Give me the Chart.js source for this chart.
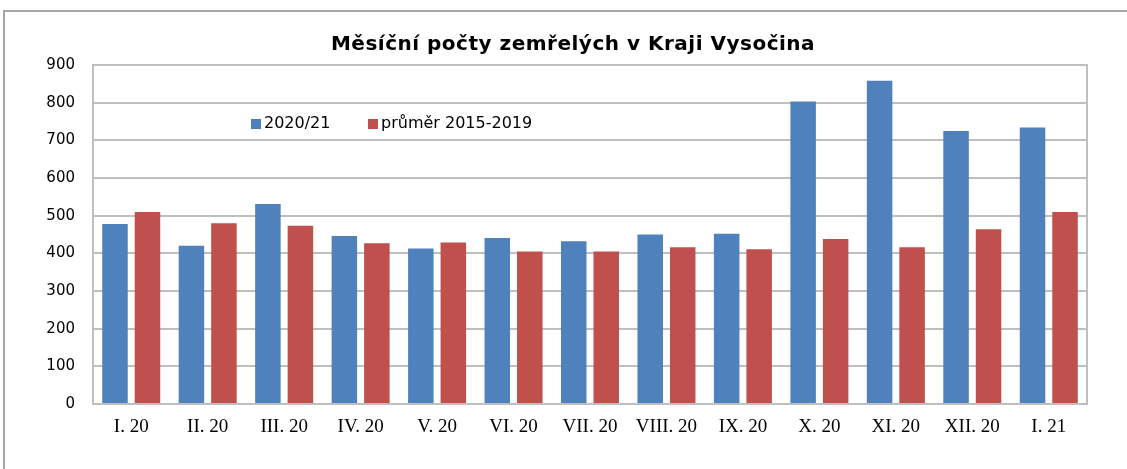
<!DOCTYPE html>
<html>
<head>
<meta charset="utf-8">
<script src="https://cdn.jsdelivr.net/npm/chart.js@4.4.1/dist/chart.umd.min.js"></script>
<style>
  html, body { margin: 0; padding: 0; background: #fff; }
  #wrap { position: relative; width: 1127px; height: 469px; }
</style>
</head>
<body>
<div id="wrap"><canvas id="chart" width="1127" height="469"></canvas></div>
<script>
// Chart data
const months = ['I. 20', 'II. 20', 'III. 20', 'IV. 20', 'V. 20', 'VI. 20', 'VII. 20',
  'VIII. 20', 'IX. 20', 'X. 20', 'XI. 20', 'XII. 20', 'I. 21'];
const deaths2020 = [478, 420, 531, 446, 413, 441, 432, 450, 452, 803, 858, 725, 734];
const average2015 = [510, 480, 473, 427, 429, 405, 405, 416, 411, 438, 416, 464, 510];
const seriesNames = ['2020/21', 'průměr 2015-2019'];
const yTicks = [0, 100, 200, 300, 400, 500, 600, 700, 800, 900];
const chartTitle = 'Měsíční počty zemřelých v Kraji Vysočina';

const gridColor = '#bfbfbf';
const sansFont = '"DejaVu Sans", Verdana, sans-serif';

// Outer frame, title, plot frame and the in-plot legend
const framePlugin = {
  id: 'frame',
  beforeDraw(chart) {
    const ctx = chart.ctx;
    ctx.save();
    ctx.strokeStyle = '#a6a6a6';
    ctx.lineWidth = 2;
    ctx.beginPath();
    ctx.moveTo(4, 469);
    ctx.lineTo(4, 11);
    ctx.lineTo(1127, 11);
    ctx.stroke();
    ctx.restore();
  },
  afterDraw(chart) {
    const { ctx, chartArea } = chart;
    ctx.save();
    ctx.strokeStyle = gridColor;
    ctx.lineWidth = 2;
    ctx.strokeRect(chartArea.left, chartArea.top, chartArea.right - chartArea.left, chartArea.bottom - chartArea.top);

    // title
    ctx.fillStyle = '#000';
    ctx.font = 'bold 20px ' + sansFont;
    ctx.letterSpacing = '0.5px';
    ctx.textAlign = 'center';
    ctx.textBaseline = 'middle';
    ctx.fillText(chartTitle, 573, chartArea.top - 20);
    ctx.letterSpacing = '0px';

    // legend
    const y = chartArea.top + 59;
    const xs = [chartArea.left + 158, chartArea.left + 275];
    ctx.font = '16px ' + sansFont;
    ctx.textAlign = 'left';
    chart.data.datasets.forEach((ds, i) => {
      ctx.fillStyle = ds.backgroundColor;
      ctx.fillRect(xs[i], y - 5, 10, 10);
      ctx.fillStyle = '#000';
      ctx.fillText(ds.label, xs[i] + 13, y);
    });
    ctx.restore();
  }
};

new Chart(document.getElementById('chart'), {
  type: 'bar',
  data: {
    labels: months,
    datasets: [
      { label: seriesNames[0], data: deaths2020, backgroundColor: '#4f81bd' },
      { label: seriesNames[1], data: average2015, backgroundColor: '#c0504d' }
    ]
  },
  options: {
    responsive: false,
    animation: false,
    categoryPercentage: 0.85,
    barPercentage: 0.785,
    layout: { padding: { left: 20, right: 40, top: 65, bottom: 0 } },
    plugins: {
      legend: { display: false },
      tooltip: { enabled: false },
      title: { display: false }
    },
    scales: {
      x: {
        grid: { display: false, drawTicks: false },
        border: { color: gridColor, width: 2 },
        ticks: {
          color: '#000',
          padding: 12,
          maxRotation: 0,
          autoSkip: false,
          font: { family: '"Liberation Serif", serif', size: 19 }
        },
        afterFit: (scale) => { scale.height = 65; }
      },
      y: {
        min: 0,
        max: 900,
        afterBuildTicks: (scale) => { scale.ticks = yTicks.map(v => ({ value: v })); },
        grid: { color: gridColor, lineWidth: 2, drawTicks: false },
        border: { color: gridColor, width: 2 },
        ticks: {
          color: '#000',
          padding: 18,
          font: { family: sansFont, size: 15 }
        },
        afterFit: (scale) => { scale.width = 73; }
      }
    }
  },
  plugins: [framePlugin]
});
</script>
</body>
</html>
